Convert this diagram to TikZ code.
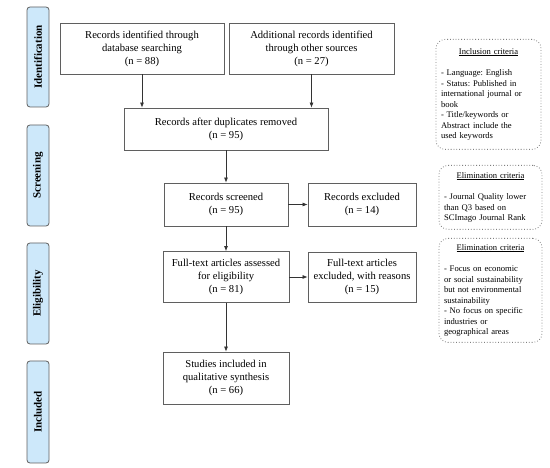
\documentclass[tikz,border=0pt]{standalone}
\usepackage{fontspec}
\setmainfont{Liberation Serif}
\usetikzlibrary{arrows.meta}
\frenchspacing
\definecolor{phase}{RGB}{205,232,250}
\definecolor{edge}{RGB}{95,95,95}
\tikzset{
  box/.style={draw=edge, line width=0.8pt, align=center, inner sep=2pt,
    font=\fontsize{10.6}{13}\selectfont},
  phasebox/.style={draw=edge, fill=phase, line width=0.8pt, rounded corners=3pt,
    minimum width=22, font=\fontsize{11}{12}\selectfont\bfseries},
  crit/.style={draw=edge!80, dotted, line width=0.8pt, rounded corners=9pt,
    align=left, inner sep=0pt, font=\fontsize{8.6}{10.5}\selectfont\frenchspacing, anchor=north},
  arr/.style={draw=black!80, line width=0.7pt, -{Latex[length=5pt,width=4pt]}},
}
\begin{document}
\begin{tikzpicture}[x=1pt,y=-1pt]
\useasboundingbox (0,0) rectangle (550,468);
% phase labels
\node[phasebox, minimum height=100] (pI) at (38,57) {\rotatebox{90}{Identification}};
\node[phasebox, minimum height=101] (pS) at (38,175.5) {\rotatebox{90}{Screening}};
\node[phasebox, minimum height=101] (pE) at (38,293.5) {\rotatebox{90}{Eligibility}};
\node[phasebox, minimum height=102] (pN) at (38,412) {\rotatebox{90}{Included}};
% boxes
\node[box, minimum width=164, minimum height=51] (b1) at (142,48.5)
  {Records identified through\\database searching\\(n = 88)};
\node[box, minimum width=165, minimum height=51] (b2) at (311.5,48.5)
  {Additional records identified\\through other sources\\(n = 27)};
\node[box, minimum width=204, minimum height=42] (b3) at (226,129)
  {Records after duplicates removed\\(n = 95)};
\node[box, minimum width=124, minimum height=43] (b4) at (226,204.5)
  {Records screened\\(n = 95)};
\node[box, minimum width=108, minimum height=43] (b5) at (362,204.5)
  {Records excluded\\(n = 14)};
\node[box, minimum width=126, minimum height=51] (b6) at (226,277)
  {Full-text articles assessed\\for eligibility\\(n = 81)};
\node[box, minimum width=108, minimum height=50] (b7) at (362,277)
  {Full-text articles\\excluded, with reasons\\(n = 15)};
\node[box, minimum width=126, minimum height=52] (b8) at (226,378)
  {Studies included in\\qualitative synthesis\\(n = 66)};
% arrows
\draw[arr] (b1.south) -- (b1.south |- b3.north);
\draw[arr] (b2.south) -- (b2.south |- b3.north);
\draw[arr] (b3.south) -- (b4.north);
\draw[arr] (b4.east) -- (b5.west);
\draw[arr] (b4.south) -- (b6.north);
\draw[arr] (b6.east) -- (b6.east -| b7.west);
\draw[arr] (b6.south) -- (b8.north);
% criteria
\node[crit, minimum width=105, minimum height=110, text width=95] (c1) at (488.5,39)
  {\vspace{5pt}\centering\underline{Inclusion criteria}\par\vspace{6pt}\raggedright
   - Language: English\\- Status: Published in\\international journal or\\book\\
   - Title/keywords or\\Abstract include the\\used keywords\par\vspace{8pt}};
\node[crit, minimum width=103, minimum height=64, text width=93] (c2) at (490.5,165)
  {\vspace{5pt}\centering\underline{Elimination criteria}\par\vspace{6pt}\raggedright
   - Journal Quality lower\\than Q3 based on\\SCImago Journal Rank\par\vspace{6pt}};
\node[crit, minimum width=103, minimum height=104, text width=93] (c3) at (490.5,238)
  {\vspace{5pt}\centering\underline{Elimination criteria}\par\vspace{6pt}\raggedright
   - Focus on economic\\or social sustainability\\but not environmental\\sustainability\\
   - No focus on specific\\industries or\\geographical areas\par\vspace{5pt}};
\end{tikzpicture}
\end{document}
